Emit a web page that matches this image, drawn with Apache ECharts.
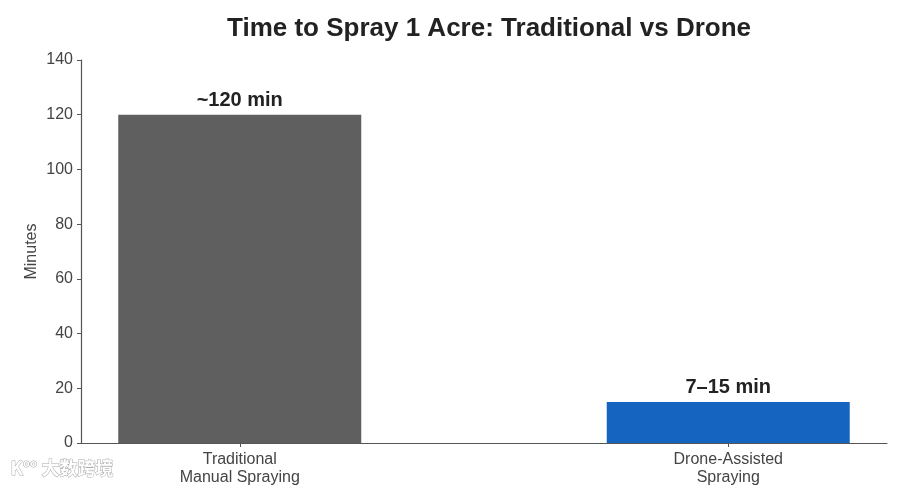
<!DOCTYPE html>
<html><head><meta charset="utf-8">
<script src="https://cdn.jsdelivr.net/npm/echarts@6/dist/echarts.min.js"></script>
<style>html,body{margin:0;padding:0;background:#fff}#c{width:900px;height:491px}</style>
</head><body><div id="c"></div>
<script>
const categories = ["Traditional\nManual Spraying", "Drone-Assisted\nSpraying"];
const values = [120, 15];
const valueLabels = ["~120 min", "7–15 min"];
const barColors = ["#5f5f5f", "#1565c0"];
const yTicks = [0, 20, 40, 60, 80, 100, 120, 140];

const chart = echarts.init(document.getElementById('c'));
const font = 'Liberation Sans, Arial, sans-serif';
chart.setOption({
  animation: false,
  title: {
    text: 'Time to Spray 1 Acre: Traditional vs Drone',
    left: 484, top: 11, textAlign: 'center',
    textStyle: {fontFamily: font, fontSize: 26, fontWeight: 'bold', color: '#222'}
  },
  grid: {left: 81, right: 13, top: 60, bottom: 48},
  xAxis: {
    type: 'value', min: -0.325, max: 1.325,
    splitLine: {show: false},
    axisLine: {show: true, onZero: false, lineStyle: {color: '#555', width: 1.2}},
    axisTick: {show: true, customValues: [0, 1], length: 4, lineStyle: {color: '#555'}},
    axisLabel: {
      customValues: [0, 1], color: '#444', fontFamily: font, fontSize: 16, lineHeight: 18, margin: 8,
      formatter: v => categories[Math.round(v)]
    }
  },
  yAxis: {
    type: 'value', min: 0, max: 140, interval: 20,
    name: 'Minutes', nameLocation: 'middle', nameGap: 41, nameRotate: 90, nameMoveOverlap: false,
    nameTextStyle: {color: '#444', fontFamily: font, fontSize: 16},
    splitLine: {show: false},
    axisLine: {show: true, onZero: false, lineStyle: {color: '#555', width: 1.2}},
    axisTick: {show: true, length: 4, lineStyle: {color: '#555'}},
    axisLabel: {color: '#444', fontFamily: font, fontSize: 16, margin: 8,
      formatter: v => yTicks.includes(v) ? String(v) : ''}
  },
  series: [{
    type: 'bar', barWidth: 243,
    data: values.map((v, i) => ({value: [i, v], itemStyle: {color: barColors[i]},
      label: {show: true, position: 'top', distance: 4, formatter: valueLabels[i],
        fontFamily: font, fontSize: 20, fontWeight: 'bold', color: '#222'}}))
  }],
  graphic: [{
    type: 'text', left: 10, top: 459,
    style: {text: 'K°° 大数跨境', fontFamily: 'Noto Sans CJK SC', fontSize: 18, fontWeight: 'bold',
      fill: '#fff', stroke: '#aaa', lineWidth: 1}
  }]
});
</script></body></html>
